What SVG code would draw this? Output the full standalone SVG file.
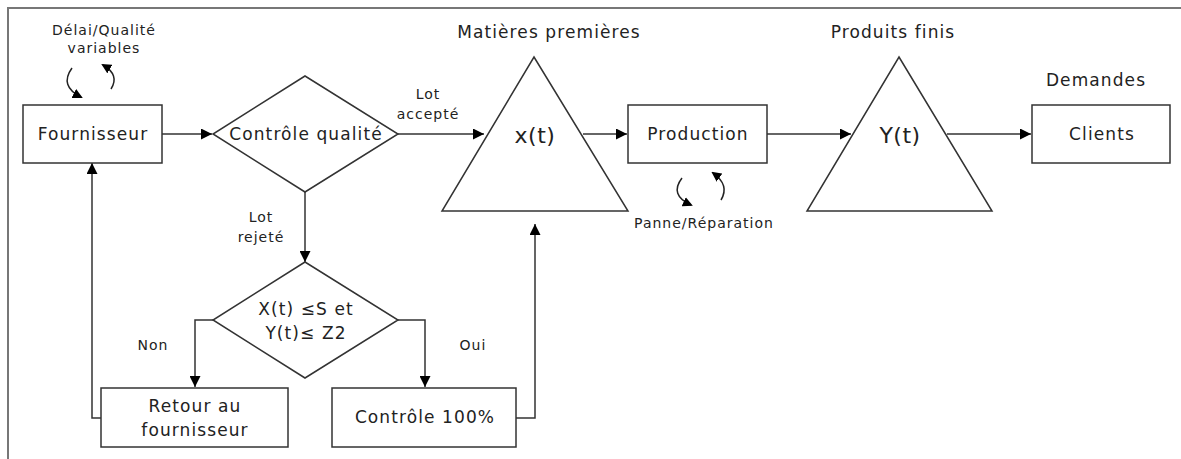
<svg xmlns="http://www.w3.org/2000/svg" width="1181" height="459" viewBox="0 0 1181 459">
<defs>
<marker id="ah" viewBox="0 0 10 10" refX="10" refY="5" markerWidth="11" markerHeight="11" markerUnits="userSpaceOnUse" orient="auto">
<path d="M0,0 L10,5 L0,10 z" fill="#000"/>
</marker>
<marker id="ah2" viewBox="0 0 10 10" refX="8" refY="5" markerWidth="10" markerHeight="10" markerUnits="userSpaceOnUse" orient="auto">
<path d="M0,0 L10,5 L0,10 z" fill="#000"/>
</marker>
</defs>
<style>
.shape{fill:#fff;stroke:#333;stroke-width:1.5}
.line{fill:none;stroke:#333;stroke-width:1.5}
.curl{fill:none;stroke:#222;stroke-width:1.5}
.t{font-family:"DejaVu Sans","Open Sans",sans-serif;fill:#222;text-anchor:middle}
.big{font-size:17px;letter-spacing:1.1px}
.sm{font-size:14px;letter-spacing:1px}
.xt{font-size:22px;letter-spacing:0.5px}
</style>
<rect width="1181" height="459" fill="#fff"/>
<path d="M8,459 V8 H1181" fill="none" stroke="#777" stroke-width="2"/>

<g id="connectors">
<path class="line" d="M162,134 H212" marker-end="url(#ah)"/>
<path class="line" d="M398,134 H484" marker-end="url(#ah)"/>
<path class="line" d="M305,192 V262" marker-end="url(#ah)"/>
<path class="line" d="M213,320 H195 V387" marker-end="url(#ah)"/>
<path class="line" d="M398,320 H425 V387" marker-end="url(#ah)"/>
<path class="line" d="M101,418 H92 V163" marker-end="url(#ah)"/>
<path class="line" d="M516,418 H535 V224" marker-end="url(#ah)"/>
<path class="line" d="M583,134 H627" marker-end="url(#ah)"/>
<path class="line" d="M767,134 H851" marker-end="url(#ah)"/>
<path class="line" d="M947,134 H1031" marker-end="url(#ah)"/>
</g>

<g id="fournisseur">
<rect class="shape" x="23" y="105" width="139" height="58"/>
<text class="t big" x="93" y="140">Fournisseur</text>
</g>
<g id="delai">
<text class="t sm" x="104" y="35">Délai/Qualité</text>
<text class="t sm" x="104" y="53">variables</text>
<path class="curl" d="M72,68 Q59,86 81,97" marker-end="url(#ah2)"/>
<path class="curl" d="M111,89 Q120,75 103,65" marker-end="url(#ah2)"/>
</g>

<g id="controle-qualite">
<polygon class="shape" points="305,76 398,134 305,192 213,134"/>
<text class="t big" x="306" y="140">Contrôle qualité</text>
</g>
<g id="lot-accepte">
<text class="t sm" x="428" y="99">Lot</text>
<text class="t sm" x="428" y="119">accepté</text>
</g>
<g id="lot-rejete">
<text class="t sm" x="261" y="222">Lot</text>
<text class="t sm" x="261" y="242">rejeté</text>
</g>

<g id="test">
<polygon class="shape" points="305,262 398,320 305,378 213,320"/>
<text class="t big" x="306" y="315">X(t) ≤S et</text>
<text class="t big" x="306" y="339">Y(t)≤ Z2</text>
</g>
<g id="non"><text class="t sm" x="153" y="350">Non</text></g>
<g id="oui"><text class="t sm" x="473" y="350">Oui</text></g>

<g id="retour">
<rect class="shape" x="101" y="388" width="187" height="59"/>
<text class="t big" x="195" y="412">Retour au</text>
<text class="t big" x="195" y="436">fournisseur</text>
</g>
<g id="controle100">
<rect class="shape" x="332" y="388" width="184" height="59"/>
<text class="t big" x="425" y="423">Contrôle 100%</text>
</g>

<g id="matieres">
<polygon class="shape" points="534,57 628,211 442,211"/>
<text class="t xt" x="535" y="143">x(t)</text>
<text class="t big" x="549" y="38">Matières premières</text>
</g>

<g id="production">
<rect class="shape" x="628" y="105" width="139" height="58"/>
<text class="t big" x="698" y="140">Production</text>
</g>
<g id="panne">
<path class="curl" d="M682,178 Q669,195 691,205" marker-end="url(#ah2)"/>
<path class="curl" d="M721,200 Q730,185 713,173" marker-end="url(#ah2)"/>
<text class="t sm" x="704" y="228">Panne/Réparation</text>
</g>

<g id="produits">
<polygon class="shape" points="899,57 992,211 807,211"/>
<text class="t xt" x="900" y="143">Y(t)</text>
<text class="t big" x="893" y="38">Produits finis</text>
</g>

<g id="clients">
<rect class="shape" x="1032" y="105" width="138" height="58"/>
<text class="t big" x="1102" y="140">Clients</text>
<text class="t big" x="1096" y="86">Demandes</text>
</g>
</svg>
